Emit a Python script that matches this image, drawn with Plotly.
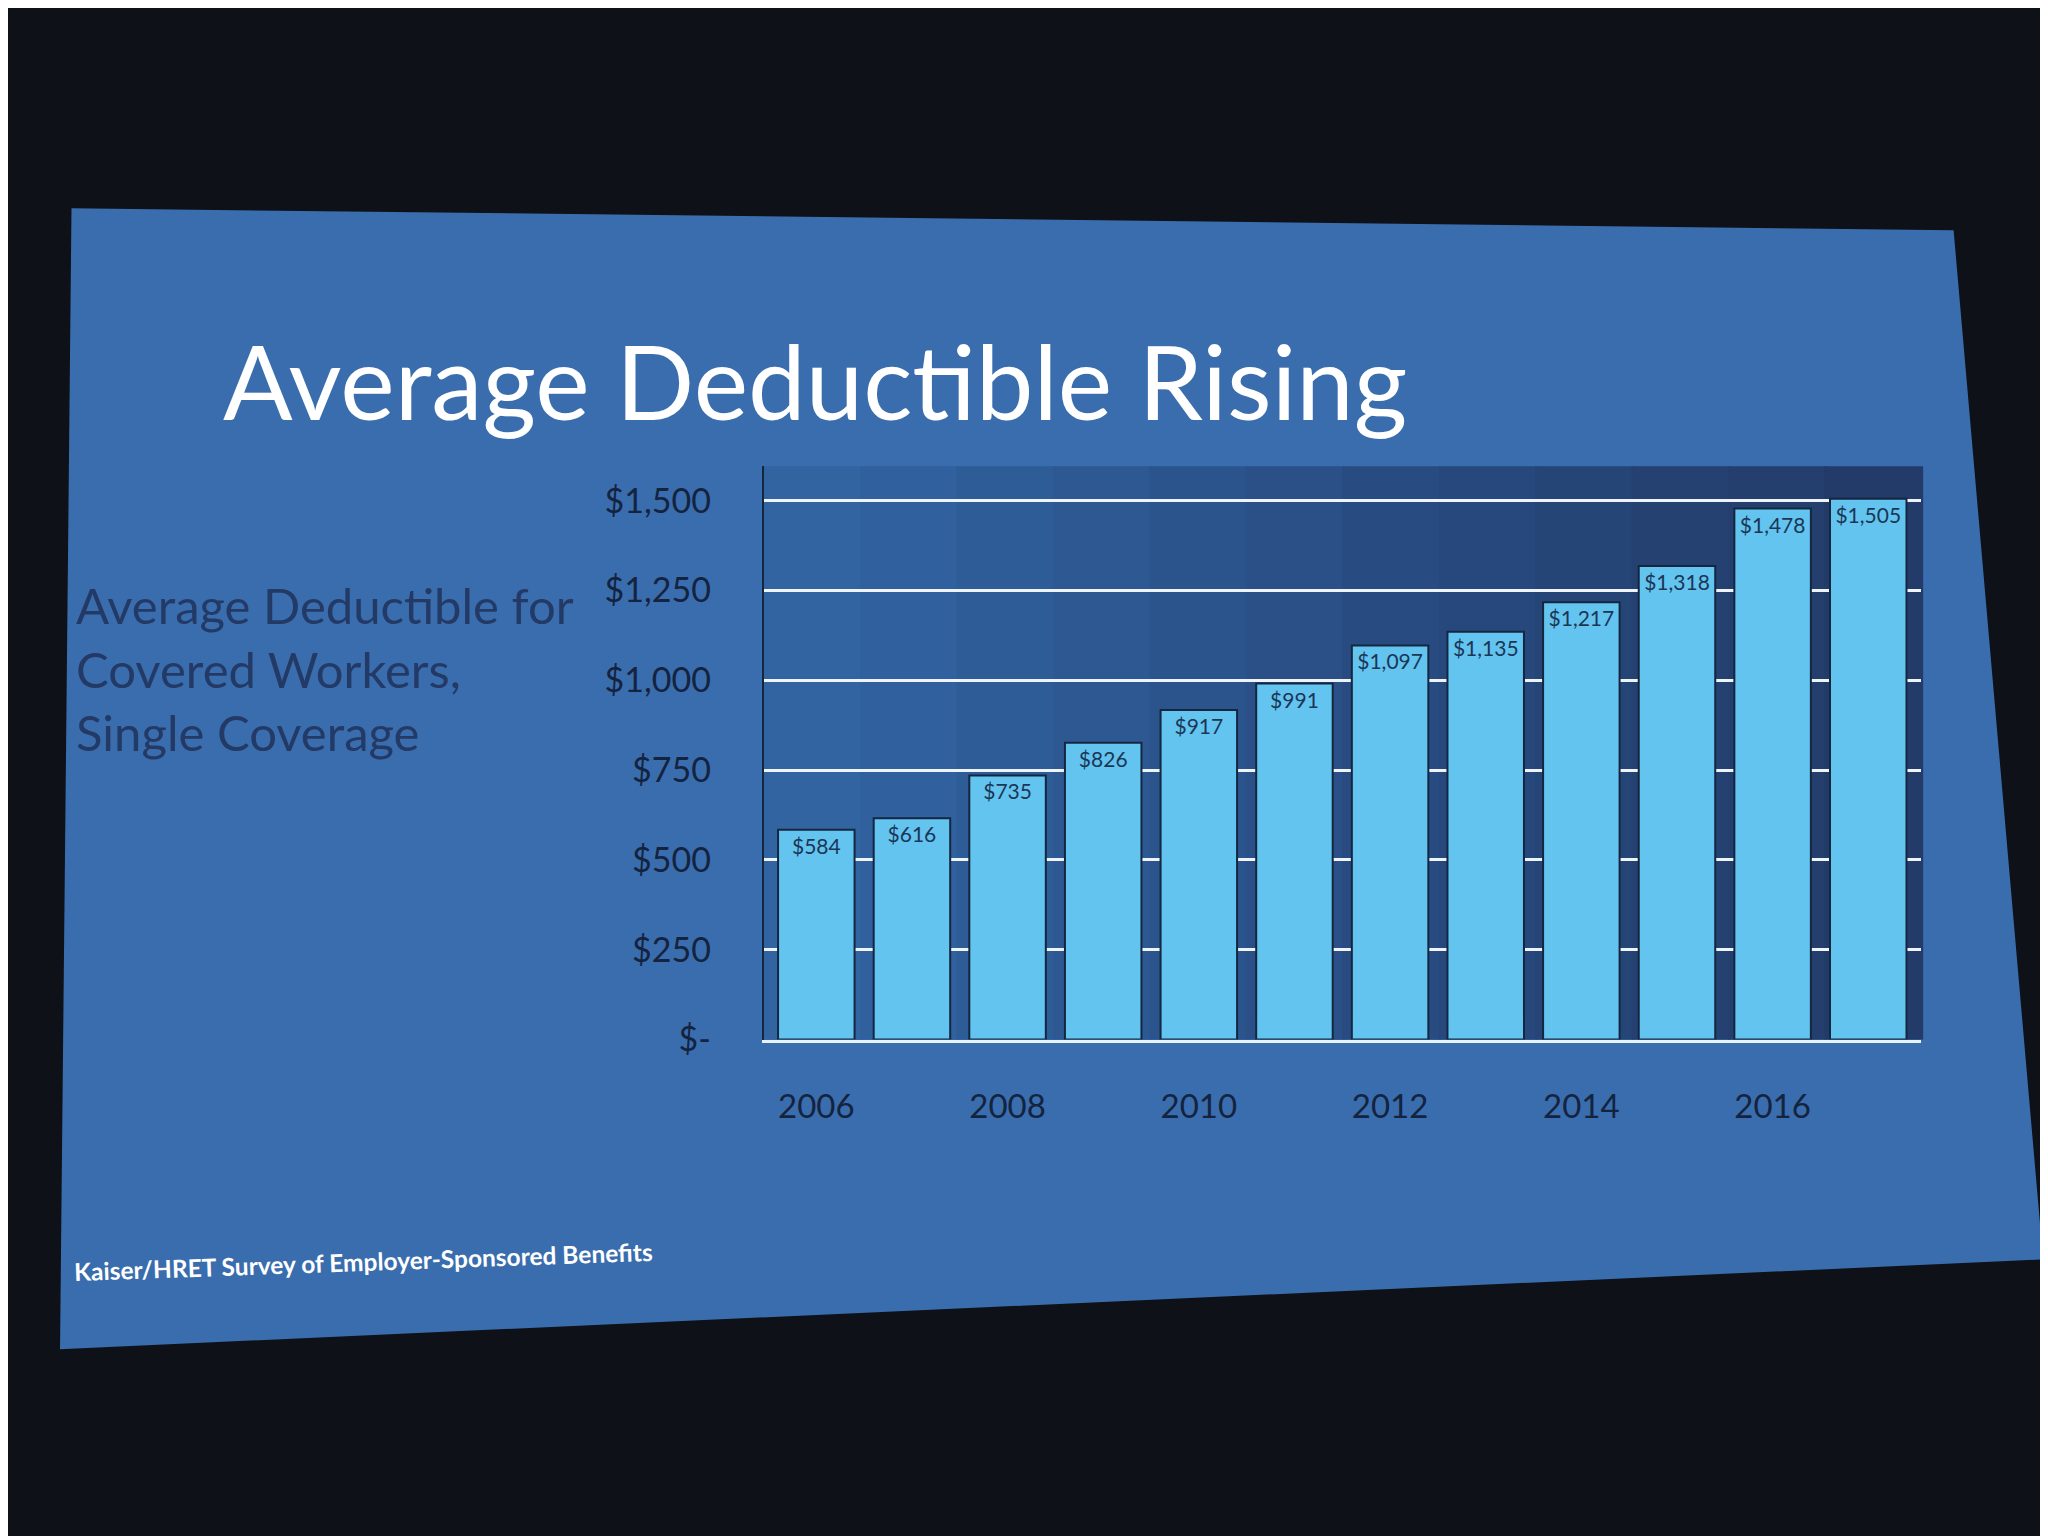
import plotly.graph_objects as go

# ---- data ----
years = [2006, 2007, 2008, 2009, 2010, 2011, 2012, 2013, 2014, 2015, 2016, 2017]
deductible = [584, 616, 735, 826, 917, 991, 1097, 1135, 1217, 1318, 1478, 1505]
bar_labels = ["$584", "$616", "$735", "$826", "$917", "$991", "$1,097", "$1,135",
              "$1,217", "$1,318", "$1,478", "$1,505"]
y_tick_vals = [0, 250, 500, 750, 1000, 1250, 1500]
y_tick_text = ["$-", "$250", "$500", "$750", "$1,000", "$1,250", "$1,500"]
x_tick_vals = [2006, 2008, 2010, 2012, 2014, 2016]
x_tick_text = ["2006", "2008", "2010", "2012", "2014", "2016"]

title_text = "Average Deductible Rising"
side_text = "Average Deductible for<br>Covered Workers,<br>Single Coverage"
source_text = "Kaiser/HRET Survey of Employer-Sponsored Benefits"

FONT = "Lato"

fig = go.Figure()
fig.add_trace(go.Bar(
    x=years, y=deductible, text=bar_labels,
    textposition="inside", insidetextanchor="end",
    textfont=dict(family=FONT, size=21, color="#1c3656"),
    textangle=0,
    marker=dict(color="#62c4ef", line=dict(color="#142640", width=2)),
    cliponaxis=False,
))

# projected slide background (slightly skewed)
slide_path = "M 0.031 0.868 L 0.950 0.8535 L 0.9937 0.1751 L 0.0254 0.1159 Z"
fig.add_shape(type="path", path=slide_path, xref="paper", yref="paper",
              fillcolor="#3a6dad", line=dict(width=0), layer="below")

# plot-area background: darkens towards the right like the photo
strip_colors = ["#3264a2", "#30609d", "#2e5c97", "#2d5892", "#2b548c", "#2a5087",
                "#284c81", "#27487c", "#264577", "#254172", "#243e6d", "#233b69"]
n = len(strip_colors)
for i, c in enumerate(strip_colors):
    fig.add_shape(type="rect", xref="x domain", yref="y domain",
                  x0=i / n, x1=(i + 1) / n + 0.002, y0=0, y1=1,
                  fillcolor=c, line=dict(width=0), layer="below")

fig.update_layout(
    width=2048, height=1536,
    margin=dict(l=0, r=0, t=0, b=0),
    paper_bgcolor="#0e1117",
    plot_bgcolor="#2b548c",
    showlegend=False,
    bargap=0.2,
    font=dict(family=FONT),
    xaxis=dict(
        domain=[0.369, 0.934],
        range=[2005.45, 2017.55],
        tickvals=x_tick_vals, ticktext=x_tick_text,
        tickfont=dict(family=FONT, size=33, color="#14233f"),
        ticklabelstandoff=36,
        showgrid=False, zeroline=False,
        showline=True, linecolor="#e8f2fa", linewidth=3,
        ticks="",
    ),
    yaxis=dict(
        domain=[0.320, 0.698],
        range=[0, 1596],
        tickvals=y_tick_vals, ticktext=y_tick_text,
        tickfont=dict(family=FONT, size=34, color="#14233f"),
        ticklabelstandoff=44,
        showgrid=True, gridcolor="#eef4fa", gridwidth=3,
        zeroline=False,
        showline=True, linecolor="#142640", linewidth=2,
        ticks="",
    ),
    annotations=[
        dict(text=title_text, x=0.104, y=0.755, xref="paper", yref="paper",
             xanchor="left", yanchor="middle", showarrow=False,
             font=dict(family=FONT, size=103, color="#ffffff")),
        dict(text=side_text, x=0.032, y=0.5645, xref="paper", yref="paper",
             xanchor="left", yanchor="middle", align="left", showarrow=False,
             font=dict(family=FONT, size=49, color="#243a66")),
        dict(text="<b>" + source_text + "</b>", x=0.031, y=0.174,
             xref="paper", yref="paper", xanchor="left", yanchor="middle",
             showarrow=False, textangle=-2,
             font=dict(family=FONT, size=24.5, color="#ffffff")),
    ],
)

fig.write_html("out.html")
